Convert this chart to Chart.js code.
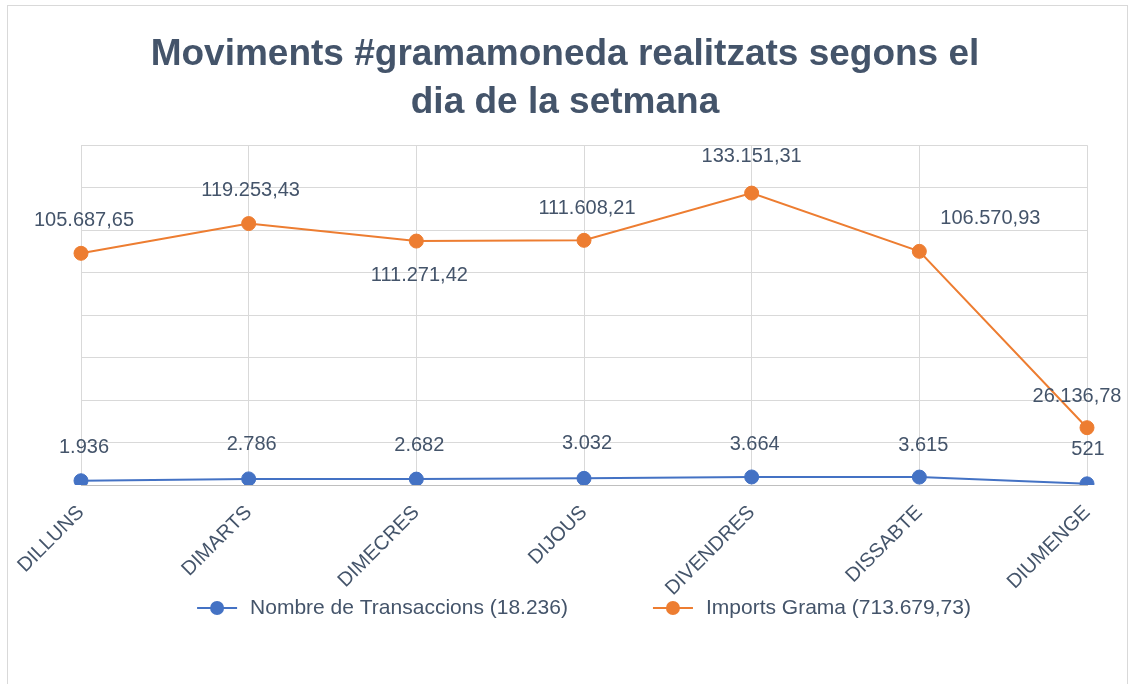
<!DOCTYPE html>
<html>
<head>
<meta charset="utf-8">
<script src="https://cdn.jsdelivr.net/npm/chart.js@4.4.1/dist/chart.umd.min.js"></script>
<style>
  html, body { margin: 0; padding: 0; background: #fff; }
  #wrap { position: relative; width: 1130px; height: 684px; overflow: hidden; }
  #frame { position: absolute; left: 7px; top: 5px; width: 1121px; height: 720px; border: 1px solid #D9D9D9; box-sizing: border-box; }
  canvas { position: absolute; left: 0; top: 0; }
</style>
</head>
<body>
<div id="wrap">
  <div id="frame"></div>
  <canvas id="chart" width="1130" height="684"></canvas>
</div>
<script>
const days = ['DILLUNS', 'DIMARTS', 'DIMECRES', 'DIJOUS', 'DIVENDRES', 'DISSABTE', 'DIUMENGE'];
const transaccions = [1936, 2786, 2682, 3032, 3664, 3615, 521];
const imports = [105687.65, 119253.43, 111271.42, 111608.21, 133151.31, 106570.93, 26136.78];
const seriesNames = ['Nombre de Transaccions (18.236)', 'Imports Grama (713.679,73)'];
const titleLines = ['Moviments #gramamoneda realitzats segons el', 'dia de la setmana'];

// where each value label sits relative to its point (dx, dy)
const labelOffsets = [
    [[3, -33], [3, -34], [3, -34], [3, -35], [3, -32], [4, -32], [1, -34]],
    [[3, -33], [2, -33], [3, 34], [3, -32], [0, -37], [71, -33], [-10, -31]]
];

const textColor = '#44546A';
const blue = '#4472C4';
const orange = '#ED7D31';
const fontFamily = '"Liberation Sans", Arial, sans-serif';

Chart.defaults.font.family = fontFamily;

// 105687.65 -> "105.687,65"
function fmt(v, decimals) {
    let parts = v.toFixed(decimals).split('.');
    let intPart = parts[0].replace(/\B(?=(\d{3})+(?!\d))/g, '.');
    return parts.length > 1 ? intPart + ',' + parts[1] : intPart;
}

const valueLabels = {
    id: 'valueLabels',
    afterDatasetsDraw(chart) {
        const ctx = chart.ctx;
        ctx.save();
        ctx.font = '20px ' + fontFamily;
        ctx.fillStyle = textColor;
        ctx.textAlign = 'center';
        ctx.textBaseline = 'middle';
        chart.data.datasets.forEach((ds, d) => {
            chart.getDatasetMeta(d).data.forEach((pt, i) => {
                const off = labelOffsets[d][i];
                ctx.fillText(ds.valueText[i], pt.x + off[0], pt.y + off[1]);
            });
        });
        ctx.restore();
    }
};

// Excel-like legend: line + dot marker, wide gap between entries
const lineLegend = {
    id: 'lineLegend',
    afterDraw(chart) {
        const ctx = chart.ctx;
        const y = chart.chartArea.bottom + 123;
        const markerW = 40, textGap = 13, itemGap = 85;
        ctx.save();
        ctx.font = '21px ' + fontFamily;
        const widths = chart.data.datasets.map(ds => ctx.measureText(ds.label).width);
        let total = widths.reduce((a, b) => a + b, 0) + widths.length * (markerW + textGap) + itemGap * (widths.length - 1);
        let x = (chart.chartArea.left + chart.chartArea.right) / 2 - total / 2;
        chart.data.datasets.forEach((ds, i) => {
            ctx.strokeStyle = ds.borderColor;
            ctx.lineWidth = 2;
            ctx.beginPath();
            ctx.moveTo(x, y);
            ctx.lineTo(x + markerW, y);
            ctx.stroke();
            ctx.fillStyle = ds.backgroundColor;
            ctx.beginPath();
            ctx.arc(x + markerW / 2, y, 7, 0, Math.PI * 2);
            ctx.fill();
            ctx.fillStyle = textColor;
            ctx.textAlign = 'left';
            ctx.textBaseline = 'middle';
            ctx.fillText(ds.label, x + markerW + textGap, y);
            x += markerW + textGap + widths[i] + itemGap;
        });
        ctx.restore();
    }
};

const ctx = document.getElementById('chart');

let data = {
    labels: days,
    datasets: [{
        label: seriesNames[0],
        data: transaccions,
        valueText: transaccions.map(v => fmt(v, 0)),
        borderColor: blue,
        backgroundColor: blue,
        borderWidth: 2,
        pointRadius: 7,
        pointBorderWidth: 1
    }, {
        label: seriesNames[1],
        data: imports,
        valueText: imports.map(v => fmt(v, 2)),
        borderColor: orange,
        backgroundColor: orange,
        borderWidth: 2,
        pointRadius: 7,
        pointBorderWidth: 1
    }]
};

let config = {
    type: 'line',
    data: data,
    plugins: [valueLabels, lineLegend],
    options: {
        responsive: false,
        animation: false,
        events: [],
        layout: { padding: { left: 43, right: 43, top: 0, bottom: 84 } },
        scales: {
            x: {
                offset: false,
                grid: { color: '#D9D9D9', drawTicks: false },
                border: { color: '#BFBFBF' },
                ticks: {
                    color: textColor,
                    font: { size: 20 },
                    minRotation: 45,
                    maxRotation: 45,
                    padding: 16,
                    autoSkip: false
                },
                afterFit: (s) => { s.height = 115; }
            },
            y: {
                min: 0,
                max: 155000,
                grid: { color: '#D9D9D9', drawTicks: false },
                border: { display: false },
                ticks: { display: false, stepSize: 19375 },
                afterFit: (s) => { s.width = 38; }
            }
        },
        plugins: {
            title: {
                display: true,
                text: titleLines,
                color: textColor,
                font: { size: 37, weight: 'bold', lineHeight: 1.3 },
                padding: { top: 31, bottom: 18 }
            },
            legend: { display: false },
            tooltip: { enabled: false }
        }
    }
};

let chartObj = new Chart(ctx, config);
</script>
</body>
</html>
